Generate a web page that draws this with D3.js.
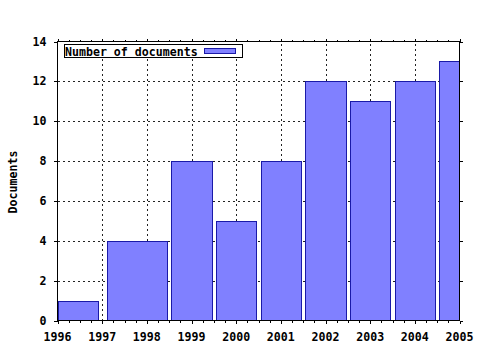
<!DOCTYPE html>
<html>
<head>
<meta charset="utf-8">
<script src="https://cdn.jsdelivr.net/npm/d3@7"></script>
<style>
  body { margin: 0; background: #fff; }
  text { font-family: "DejaVu Sans Mono", monospace; font-weight: bold; font-size: 11.6px; fill: #000; }
  .grid { stroke: #222; stroke-dasharray: 2,3; shape-rendering: crispEdges; }
  .tick { stroke: #000; shape-rendering: crispEdges; }
  .bar { fill: #8080ff; stroke: #1a1aa8; shape-rendering: crispEdges; }
</style>
</head>
<body>
<div id="plot"></div>
<script>
// bars: start / end on the year axis, and document counts
const barStart = [1996.0, 1997.1, 1998.55, 1999.55, 2000.55, 2001.55, 2002.55, 2003.55, 2004.55],
    barEnd = [1996.9, 1998.45, 1999.45, 2000.45, 2001.45, 2002.45, 2003.45, 2004.45, 2005.45],
    docs = [1, 4, 8, 5, 8, 12, 11, 12, 13],
    yearTicks = [1996, 1997, 1998, 1999, 2000, 2001, 2002, 2003, 2004, 2005],
    docTicks = [0, 2, 4, 6, 8, 10, 12, 14]

const w = 480, h = 350,
    margin = {top: 41.5, right: 20.5, bottom: 29.5, left: 57.5},
    x = d3.scaleLinear()
      .domain([1996, 2005])
      .range([margin.left, w - margin.right]),
    y = d3.scaleLinear()
      .domain([0, 14])
      .range([h - margin.bottom, margin.top])

const bars = docs.map((d, i) => ({x0: barStart[i], x1: barEnd[i], v: d}))

const svg = d3.select("#plot").append("svg")
  .attr("width", w)
  .attr("height", h)

svg.append("clipPath")
  .attr("id", "rect-clip")
  .append("rect")
  .attr("x", x(1996))
  .attr("y", y(14))
  .attr("width", x(2005) - x(1996) + 0.5)
  .attr("height", y(0) - y(14))

// grid
svg.append("g").selectAll("line")
  .data(yearTicks.slice(1, -1))
  .join("line")
  .attr("class", "grid")
  .attr("x1", d => Math.round(x(d)) + 0.5)
  .attr("x2", d => Math.round(x(d)) + 0.5)
  .attr("y1", y(0))
  .attr("y2", y(14))

svg.append("g").selectAll("line")
  .data(docTicks.slice(1, -1))
  .join("line")
  .attr("class", "grid")
  .attr("x1", x(1996))
  .attr("x2", x(2005))
  .attr("y1", d => Math.round(y(d)) + 0.5)
  .attr("y2", d => Math.round(y(d)) + 0.5)

// legend (drawn before bars, it covers the grid only)
const leg = svg.append("g")
leg.append("rect")
  .attr("x", 64.5).attr("y", 44.5)
  .attr("width", 178).attr("height", 13)
  .attr("fill", "#fff").attr("stroke", "#000")
  .attr("shape-rendering", "crispEdges")
leg.append("text")
  .attr("x", 65).attr("y", 55.5)
  .text("Number of documents")
leg.append("rect")
  .attr("class", "bar")
  .attr("x", 204.5).attr("y", 48.5)
  .attr("width", 31).attr("height", 5)

// bars
svg.append("g")
  .attr("clip-path", "url(#rect-clip)")
  .selectAll("rect")
  .data(bars)
  .join("rect")
  .attr("class", "bar")
  .attr("x", d => Math.round(x(d.x0)) + 0.5)
  .attr("width", d => Math.round(x(d.x1)) - Math.round(x(d.x0)))
  .attr("y", d => Math.round(y(d.v)) + 0.5)
  .attr("height", d => Math.round(y(0)) - Math.round(y(d.v)))

// frame
svg.append("rect")
  .attr("x", x(1996)).attr("y", y(14))
  .attr("width", x(2005) - x(1996))
  .attr("height", y(0) - y(14))
  .attr("fill", "none").attr("stroke", "#000")
  .attr("shape-rendering", "crispEdges")

// ticks: major on years, minor every quarter
const minor = d3.range(1996, 2005.01, 0.25)
const tk = svg.append("g")
minor.forEach(t => {
  const len = Number.isInteger(t) ? 3 : 2,
      px = Math.round(x(t)) + 0.5
  tk.append("line").attr("class", "tick")
    .attr("x1", px).attr("x2", px)
    .attr("y1", y(0)).attr("y2", y(0) + len)
  tk.append("line").attr("class", "tick")
    .attr("x1", px).attr("x2", px)
    .attr("y1", y(14)).attr("y2", y(14) - len)
})
docTicks.forEach(t => {
  const py = Math.round(y(t)) + 0.5
  tk.append("line").attr("class", "tick")
    .attr("x1", x(1996) - 4).attr("x2", x(1996))
    .attr("y1", py).attr("y2", py)
  tk.append("line").attr("class", "tick")
    .attr("x1", x(2005)).attr("x2", x(2005) + 3)
    .attr("y1", py).attr("y2", py)
})

// tick labels
svg.append("g").selectAll("text")
  .data(yearTicks)
  .join("text")
  .attr("x", d => x(d))
  .attr("y", 341)
  .style("text-anchor", "middle")
  .text(d => d)

svg.append("g").selectAll("text")
  .data(docTicks)
  .join("text")
  .attr("x", 46.5)
  .attr("y", d => y(d) + 4)
  .style("text-anchor", "end")
  .text(d => d)

// y axis label
svg.append("text")
  .attr("transform", "rotate(-90)")
  .attr("x", -182)
  .attr("y", 17)
  .style("text-anchor", "middle")
  .text("Documents")
</script>
</body>
</html>
